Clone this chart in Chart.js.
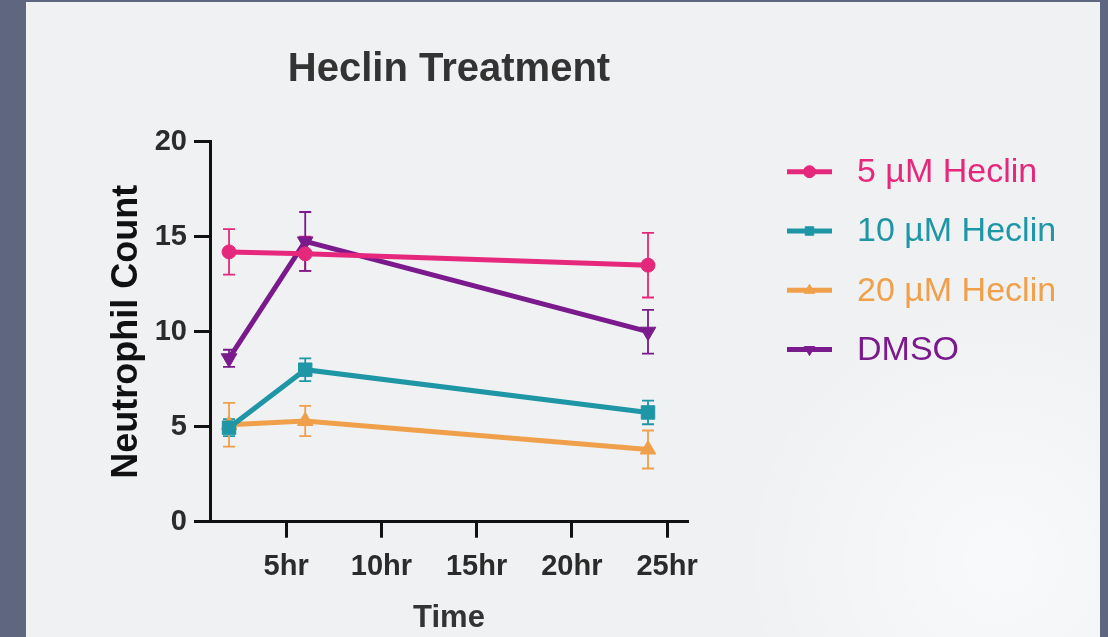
<!DOCTYPE html>
<html>
<head>
<meta charset="utf-8">
<script src="https://cdn.jsdelivr.net/npm/chart.js@4.4.0/dist/chart.umd.min.js"></script>
<style>
  html, body { margin: 0; padding: 0; background: #5e6680; }
  canvas { display: block; }
</style>
</head>
<body>
<canvas id="myChart" width="1108" height="637"></canvas>
<script>
// time points (hours)
var times = [2, 6, 24];

// mean neutrophil counts and error (SEM) per group
var heclin5 = [14.2, 14.1, 13.5];
var heclin5Err = [1.2, 0.9, 1.7];
var heclin10 = [4.95, 8.0, 5.75];
var heclin10Err = [0.45, 0.6, 0.62];
var heclin20 = [5.1, 5.3, 3.8];
var heclin20Err = [1.15, 0.8, 1.0];
var dmso = [8.6, 14.75, 10.0];
var dmsoErr = [0.45, 1.55, 1.15];

var seriesNames = ['5 µM Heclin', '10 µM Heclin', '20 µM Heclin', 'DMSO'];
var xTicks = [5, 10, 15, 20, 25];

function pts(vals) {
  return times.map(function (t, i) { return { x: t, y: vals[i] }; });
}

var FONT = "'Liberation Sans', Arial, Helvetica, sans-serif";
Chart.defaults.font.family = FONT;

// panel background with dark frame
var panelBg = {
  id: 'panelBg',
  beforeDraw: function (chart) {
    var ctx = chart.ctx;
    ctx.save();
    ctx.fillStyle = '#5e6680';
    ctx.fillRect(0, 0, chart.width, chart.height);
    ctx.fillStyle = '#eff1f3';
    ctx.fillRect(26, 2, 1074, chart.height - 2);
    var g = ctx.createRadialGradient(1000, 560, 10, 1000, 560, 260);
    g.addColorStop(0, 'rgba(255,255,255,0.6)');
    g.addColorStop(1, 'rgba(255,255,255,0)');
    ctx.fillStyle = g;
    ctx.fillRect(26, 2, 1074, chart.height - 2);
    ctx.restore();
  }
};

// vertical error bars with caps
var errorBars = {
  id: 'errorBars',
  beforeDatasetsDraw: function (chart) {
    var ctx = chart.ctx, xs = chart.scales.x, ys = chart.scales.y;
    ctx.save();
    chart.data.datasets.forEach(function (ds) {
      ctx.strokeStyle = ds.borderColor;
      ctx.lineWidth = 1.8;
      ds.data.forEach(function (p, i) {
        var x = xs.getPixelForValue(p.x);
        var top = ys.getPixelForValue(p.y + ds.errors[i]);
        var bot = ys.getPixelForValue(p.y - ds.errors[i]);
        ctx.beginPath();
        ctx.moveTo(x, top); ctx.lineTo(x, bot);
        ctx.moveTo(x - 6, top); ctx.lineTo(x + 6, top);
        ctx.moveTo(x - 6, bot); ctx.lineTo(x + 6, bot);
        ctx.stroke();
      });
    });
    ctx.restore();
  }
};

// legend drawn to the right of the plot
var sideLegend = {
  id: 'sideLegend',
  afterDraw: function (chart) {
    var ctx = chart.ctx, ca = chart.chartArea;
    ctx.save();
    chart.data.datasets.forEach(function (ds, i) {
      var y = ca.top + 30 + i * 59.3;
      var x0 = ca.right + 99;
      ctx.strokeStyle = ds.borderColor;
      ctx.fillStyle = ds.borderColor;
      ctx.lineWidth = 5;
      ctx.beginPath();
      ctx.moveTo(x0, y); ctx.lineTo(x0 + 45, y);
      ctx.stroke();
      ctx.lineWidth = 1;
      Chart.helpers.drawPoint(ctx, {
        pointStyle: ds.pointStyle, rotation: ds.pointRotation || 0, radius: 6, borderWidth: 1
      }, x0 + 22.5, y);
      ctx.font = '34px ' + FONT;
      ctx.textAlign = 'left';
      ctx.textBaseline = 'middle';
      ctx.fillText(ds.label, x0 + 70, y + 1);
    });
    ctx.restore();
  }
};

function series(label, vals, errs, color, style, size, rot) {
  return {
    label: label,
    data: pts(vals),
    errors: errs,
    borderColor: color,
    backgroundColor: color,
    borderWidth: 5,
    pointStyle: style,
    pointRotation: rot || 0,
    pointRadius: size,
    pointBorderWidth: 1,
    pointBackgroundColor: color,
    tension: 0
  };
}

var axisFont = { size: 29, weight: 'bold' };

var ctx = document.getElementById('myChart').getContext('2d');
var myChart = new Chart(ctx, {
  type: 'line',
  data: {
    datasets: [
      series(seriesNames[0], heclin5, heclin5Err, '#e6287c', 'circle', 7),
      series(seriesNames[1], heclin10, heclin10Err, '#1f96a6', 'rect', 9.5),
      series(seriesNames[2], heclin20, heclin20Err, '#f0a04a', 'triangle', 9),
      series(seriesNames[3], dmso, dmsoErr, '#7a1a8c', 'triangle', 9, 180)
    ]
  },
  plugins: [panelBg, errorBars, sideLegend],
  options: {
    responsive: false,
    animation: false,
    layout: { padding: { left: 100, right: 420, top: 0, bottom: 0 } },
    plugins: {
      legend: { display: false },
      tooltip: { enabled: false },
      title: {
        display: true,
        fullSize: false,
        text: 'Heclin Treatment',
        color: '#333333',
        font: { size: 40, weight: 'bold' },
        padding: { top: 45.5, bottom: 48.2 }
      }
    },
    scales: {
      x: {
        type: 'linear',
        min: 1,
        max: 26.1,
        afterFit: function (s) { s.height = 115.3; },
        afterBuildTicks: function (s) { s.ticks = xTicks.map(function (v) { return { value: v }; }); },
        ticks: {
          autoSkip: false, maxRotation: 0, padding: 12,
          color: '#2b2b2b', font: axisFont,
          callback: function (v) { return v + 'hr'; }
        },
        grid: { drawOnChartArea: false, drawTicks: true, tickLength: 16, tickWidth: 3, tickColor: '#111' },
        border: { display: true, width: 3, color: '#111' },
        title: {
          display: true, text: 'Time', color: '#333333',
          font: { size: 31, weight: 'bold' }, padding: { top: 0, bottom: 0 }
        }
      },
      y: {
        min: 0,
        max: 20,
        afterFit: function (s) { s.width = 110; },
        ticks: { stepSize: 5, padding: 7, color: '#2b2b2b', font: axisFont },
        grid: { drawOnChartArea: false, drawTicks: true, tickLength: 16, tickWidth: 3, tickColor: '#111' },
        border: { display: true, width: 3, color: '#111' },
        title: {
          display: true, text: 'Neutrophil Count', color: '#111111',
          font: { size: 36, weight: 'bold' }, padding: { top: 5.4, bottom: 0 }
        }
      }
    }
  }
});
</script>
</body>
</html>
